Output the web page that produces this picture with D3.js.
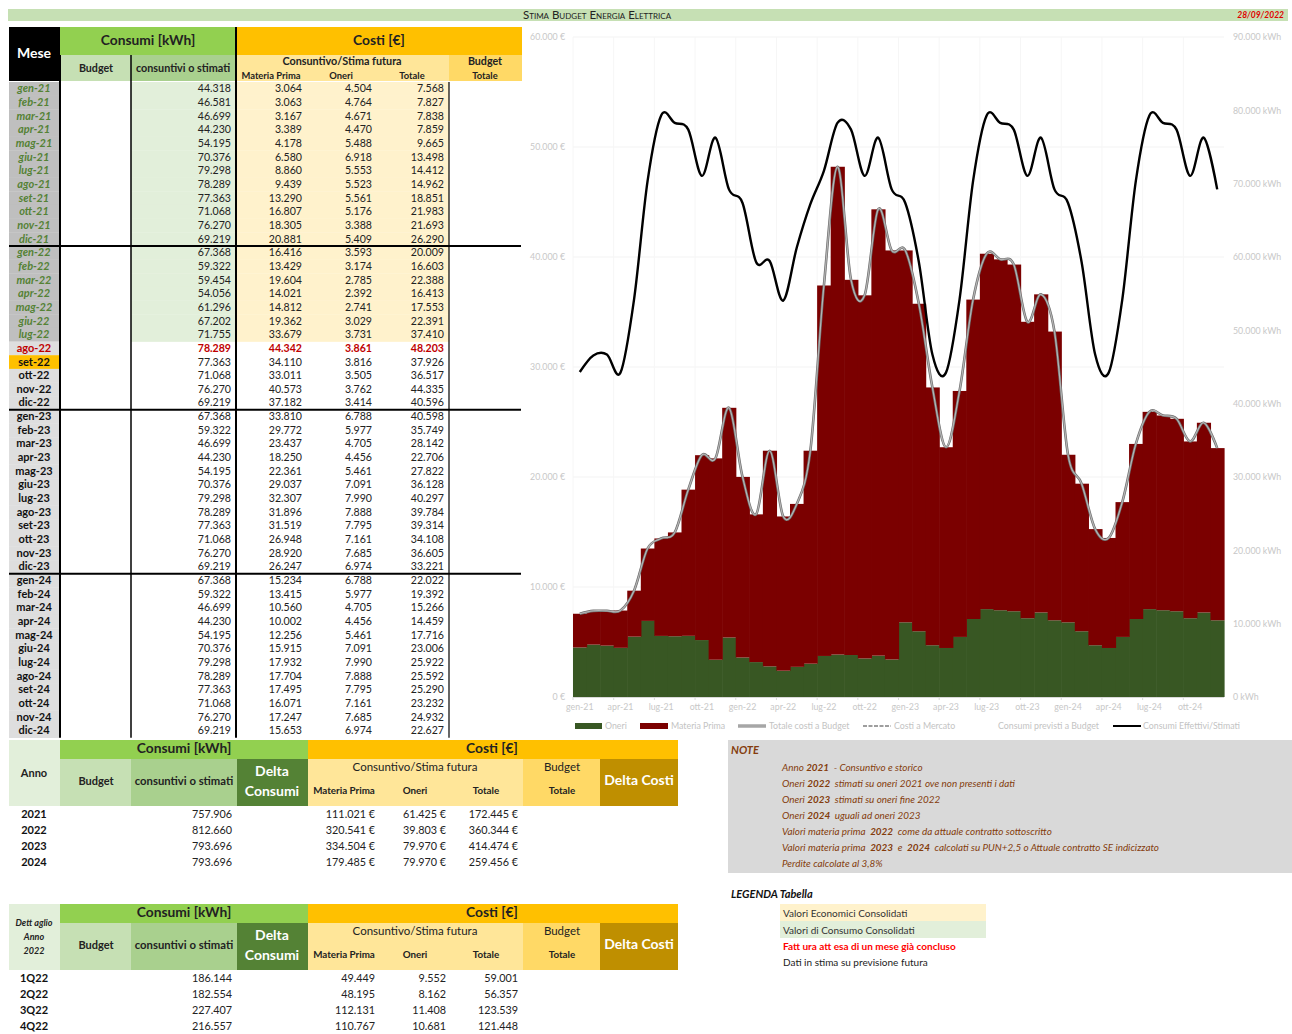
<!DOCTYPE html>
<html><head><meta charset="utf-8">
<script src="https://cdn.jsdelivr.net/npm/d3@7"></script>
<style>body{margin:0;background:#fff} svg{display:block;font-family:Lato,'Open Sans',sans-serif}</style>
</head><body><svg id="c" width="1292" height="1034"></svg>
<script>
// ---------------- DATA ----------------
const monthNames = ["gen","feb","mar","apr","mag","giu","lug","ago","set","ott","nov","dic"];
const yearSuffix = ["21","22","23","24"];
const months = yearSuffix.flatMap(y => monthNames.map(m => m + "-" + y));

const consumi = [
  44318,46581,46699,44230,54195,70376,79298,78289,77363,71068,76270,69219,
  67368,59322,59454,54056,61296,67202,71755,78289,77363,71068,76270,69219,
  67368,59322,46699,44230,54195,70376,79298,78289,77363,71068,76270,69219,
  67368,59322,46699,44230,54195,70376,79298,78289,77363,71068,76270,69219];
const materiaPrima = [
  3064,3063,3167,3389,4178,6580,8860,9439,13290,16807,18305,20881,
  16416,13429,19604,14021,14812,19362,33679,44342,34110,33011,40573,37182,
  33810,29772,23437,18250,22361,29037,32307,31896,31519,26948,28920,26247,
  15234,13415,10560,10002,12256,15915,17932,17704,17495,16071,17247,15653];
const oneri = [
  4504,4764,4671,4470,5488,6918,5553,5523,5561,5176,3388,5409,
  3593,3174,2785,2392,2741,3029,3731,3861,3816,3505,3762,3414,
  6788,5977,4705,4456,5461,7091,7990,7888,7795,7161,7685,6974,
  6788,5977,4705,4456,5461,7091,7990,7888,7795,7161,7685,6974];
const totale = [
  7568,7827,7838,7859,9665,13498,14412,14962,18851,21983,21693,26290,
  20009,16603,22388,16413,17553,22391,37410,48203,37926,36517,44335,40596,
  40598,35749,28142,22706,27822,36128,40297,39784,39314,34108,36605,33221,
  22022,19392,15266,14459,17716,23006,25922,25592,25290,23232,24932,22627];

const costTicks = [0,10000,20000,30000,40000,50000,60000];
const kwhTicks = [0,10000,20000,30000,40000,50000,60000,70000,80000,90000];
const xTickLabels = months.filter((m,i) => i % 3 === 0);

const anni = ["2021","2022","2023","2024"];
const anniConsumi = [757906,812660,793696,793696];
const anniMP = [111021,320541,334504,179485];
const anniOneri = [61425,39803,79970,79970];
const anniTot = [172445,360344,414474,259456];

const quarters = ["1Q22","2Q22","3Q22","4Q22"];
const qConsumi = [186144,182554,227407,216557];
const qMP = [49449,48195,112131,110767];
const qOneri = [9552,8162,11408,10681];
const qTot = [59001,56357,123539,121448];

const legendItems = ["Oneri","Materia Prima","Totale costi a Budget","Costi a Mercato","Consumi previsti a Budget","Consumi Effettivi/Stimati"];

const notes = [
  [["Anno ",0],["2021",1],["  - Consuntivo e storico",0]],
  [["Oneri ",0],["2022",1],["  stimati su oneri 2021 ove non presenti i dati",0]],
  [["Oneri ",0],["2023",1],["  stimati su oneri fine 2022",0]],
  [["Oneri ",0],["2024",1],["  uguali ad oneri 2023",0]],
  [["Valori materia prima  ",0],["2022",1],["  come da attuale contratto sottoscritto",0]],
  [["Valori materia prima  ",0],["2023",1],["  e  ",0],["2024",1],["  calcolati su PUN+2,5 o Attuale contratto SE indicizzato",0]],
  [["Perdite calcolate al 3,8%",0]]
];

// ---------------- HELPERS ----------------
const loc = d3.formatLocale({decimal:",", thousands:".", grouping:[3], currency:["",""]});
const fmt = loc.format(",d");
const svg = d3.select("#c");

function rect(x,y,w,h,fill){ return svg.append("rect").attr("x",x).attr("y",y).attr("width",w).attr("height",h).attr("fill",fill); }
function txt(x,y,s,o={}){
  return svg.append("text").attr("x",x).attr("y",y).text(s)
    .attr("text-anchor",o.a||"start").attr("font-size",o.s||9)
    .attr("font-weight",o.b?"bold":"normal").attr("font-style",o.i?"italic":"normal")
    .attr("fill",o.c||"#222");
}
function line(x1,y1,x2,y2,c,w){ return svg.append("line").attr("x1",x1).attr("y1",y1).attr("x2",x2).attr("y2",y2).attr("stroke",c).attr("stroke-width",w); }

// ---------------- TITLE ----------------
rect(8,9,1280,12,"#C6E0B4");
txt(597,19,"Stima Budget Energia Elettrica",{a:"middle",s:11.5,c:"#222"}).style("font-variant","small-caps");
txt(1284,18,"28/09/2022",{a:"end",s:8.5,b:true,i:true,c:"#E00000"});

// ---------------- MONTHLY TABLE ----------------
rect(9,27,51,54,"#000");
rect(60,27,176,28,"#92D050");
rect(236,27,286,28,"#FFC000");
rect(60,55,71,26,"#C6E0B4");
rect(131,55,105,26,"#A9D08E");
rect(236,55,213,26,"#FFE699");
rect(449,55,73,26,"#FFD966");
txt(34,58,"Mese",{a:"middle",s:14,b:true,c:"#fff"});
txt(148,45,"Consumi [kWh]",{a:"middle",s:13.8,b:true});
txt(379,45,"Costi [€]",{a:"middle",s:13.8,b:true});
txt(96,72,"Budget",{a:"middle",s:10.7,b:true});
txt(183,72,"consuntivi o stimati",{a:"middle",s:10.8,b:true});
txt(342,65,"Consuntivo/Stima futura",{a:"middle",s:10.8,b:true});
txt(271,78.5,"Materia Prima",{a:"middle",s:9.4,b:true});
txt(341,78.5,"Oneri",{a:"middle",s:9.4,b:true});
txt(412,78.5,"Totale",{a:"middle",s:9.4,b:true});
txt(485,65,"Budget",{a:"middle",s:10.7,b:true});
txt(485,78.5,"Totale",{a:"middle",s:9.4,b:true});

const y0 = 82, rh = 13.66;
months.forEach((m,i) => {
  const y = y0 + i*rh;
  const cons = i <= 18, late = i === 19, cur = i === 20;
  rect(9,y,51,rh+0.3, cur ? "#FFC000" : cons ? "#BFBFBF" : "#DEDEDE");
  if (cons) { rect(131,y,105,rh+0.3,"#E2EFDA"); rect(236,y,213,rh+0.3,"#FFF2CC"); }
  const by = y + 10.3;
  txt(34,by,m,{a:"middle",s:11,b:true,i:cons,c: cons ? "#548235" : late ? "#C00000" : "#111"});
  const vo = {a:"end",s:10.6,b:late,c: late ? "#C00000" : "#222"};
  txt(231,by,fmt(consumi[i]),vo);
  txt(302,by,fmt(materiaPrima[i]),vo);
  txt(372,by,fmt(oneri[i]),vo);
  txt(444,by,fmt(totale[i]),vo);
});
const tEnd = y0 + 48*rh;
line(60,55,60,tEnd,"#000",2);
line(131,55,131,tEnd,"#000",1.5);
line(236,27,236,tEnd,"#000",2);
line(449,y0,449,tEnd,"#000",1.2);
[12,24,36].forEach(k => line(9,y0+k*rh,521,y0+k*rh,"#000",2));

// ---------------- CHART ----------------
const x = d3.scaleBand().domain(months).range([573,1224]).padding(0);
const yC = d3.scaleLinear().domain([0,60000]).range([697,37]);
const yK = d3.scaleLinear().domain([0,90000]).range([697,37]);

const grid = svg.append("g");
grid.selectAll("line").data(costTicks.slice(1)).join("line")
  .attr("x1",573).attr("x2",1224).attr("y1",d=>yC(d)).attr("y2",d=>yC(d))
  .attr("stroke","#f3f3f3").attr("stroke-width",1);
grid.selectAll(".vg").data(xTickLabels).join("line").attr("class","vg")
  .attr("x1",d=>x(d)).attr("x2",d=>x(d)).attr("y1",37).attr("y2",697)
  .attr("stroke","#f6f6f6").attr("stroke-width",1);

const bars = svg.append("g");
bars.selectAll(".on").data(months).join("rect").attr("class","on")
  .attr("x",d=>x(d)).attr("width",x.bandwidth()+0.6)
  .attr("y",(d,i)=>yC(oneri[i])).attr("height",(d,i)=>yC(0)-yC(oneri[i]))
  .attr("fill","#385723");
bars.selectAll(".mp").data(months).join("rect").attr("class","mp")
  .attr("x",d=>x(d)).attr("width",x.bandwidth()+0.6)
  .attr("y",(d,i)=>yC(oneri[i]+materiaPrima[i])).attr("height",(d,i)=>yC(oneri[i])-yC(oneri[i]+materiaPrima[i]))
  .attr("fill","#7B0000");

const cx = (d,i) => x(months[i]) + x.bandwidth()/2;
const lineCost = d3.line().x(cx).y(d=>yC(d)).curve(d3.curveCardinal.tension(0));
const lineKwh = d3.line().x(cx).y(d=>yK(d)).curve(d3.curveCardinal.tension(0));
svg.append("path").datum(totale).attr("d",lineCost).attr("fill","none").attr("stroke","#6f6f6f").attr("stroke-width",2.6);
svg.append("path").datum(totale).attr("d",lineCost).attr("fill","none").attr("stroke","#b5b5b5").attr("stroke-width",1.2);
svg.append("path").datum(consumi).attr("d",lineKwh).attr("fill","none").attr("stroke","#000").attr("stroke-width",2.4);

// axes
line(573,697.5,1224,697.5,"#d9d9d9",1);
const axL = svg.append("g").attr("transform","translate(573,0)")
  .call(d3.axisLeft(yC).tickValues(costTicks).tickSize(0).tickPadding(8).tickFormat(d=>fmt(d)+" €"));
const axR = svg.append("g").attr("transform","translate(1224,0)")
  .call(d3.axisRight(yK).tickValues(kwhTicks).tickSize(0).tickPadding(9).tickFormat(d=>fmt(d)+" kWh"));
const axB = svg.append("g").attr("transform","translate(0,697)")
  .call(d3.axisBottom(x).tickValues(xTickLabels).tickSize(0).tickPadding(7));
[axL,axR,axB].forEach(a => {
  a.select(".domain").remove();
  a.selectAll("text").attr("fill","#c8c8c8").attr("font-size",8.8).attr("font-family","Lato,'Open Sans',sans-serif");
});
svg.append("g").selectAll("line").data(xTickLabels).join("line")
  .attr("x1",d=>x(d)).attr("x2",d=>x(d)).attr("y1",697).attr("y2",700).attr("stroke","#d9d9d9");

// legend
const ly = 726;
rect(575,ly-3,27,6,"#385723");
rect(640,ly-3,28,6,"#7B0000");
line(738,ly,766,ly,"#a6a6a6",3.5);
line(863,ly,891,ly,"#7f7f7f",1.5).attr("stroke-dasharray","4,1.5");
line(1113,ly,1141,ly,"#000",2);
const lx = [605,671,769,894,998,1143];
legendItems.forEach((t,i) => txt(lx[i],ly+3,t,{s:8.8,c:"#c3c3c3"}));

// ---------------- SUMMARY TABLES ----------------
function summary(oy, labelFn, rows, cons, mp, on, tot, euro){
  rect(9,oy,51,66,"#E2EFDA");
  rect(60,oy,248,19,"#92D050");
  rect(308,oy,370,19,"#FFC000");
  rect(60,oy+19,71,47,"#C6E0B4");
  rect(131,oy+19,106,47,"#A9D08E");
  rect(237,oy+19,71,47,"#548235");
  rect(308,oy+19,215,47,"#FFE699");
  rect(523,oy+19,77,47,"#FFD966");
  rect(600,oy+19,78,47,"#BF8F00");
  labelFn(oy);
  txt(184,oy+13,"Consumi [kWh]",{a:"middle",s:13.8,b:true});
  txt(492,oy+13,"Costi [€]",{a:"middle",s:13.8,b:true});
  txt(96,oy+45,"Budget",{a:"middle",s:11,b:true});
  txt(184,oy+45,"consuntivi o stimati",{a:"middle",s:11.3,b:true});
  txt(272,oy+36,"Delta",{a:"middle",s:14,b:true,c:"#fff"});
  txt(272,oy+56,"Consumi",{a:"middle",s:14,b:true,c:"#fff"});
  txt(415,oy+31,"Consuntivo/Stima futura",{a:"middle",s:11.5});
  txt(344,oy+54,"Materia Prima",{a:"middle",s:9.8,b:true});
  txt(415,oy+54,"Oneri",{a:"middle",s:9.8,b:true});
  txt(486,oy+54,"Totale",{a:"middle",s:9.8,b:true});
  txt(562,oy+31,"Budget",{a:"middle",s:11.5});
  txt(562,oy+54,"Totale",{a:"middle",s:9.8,b:true});
  txt(639,oy+45,"Delta Costi",{a:"middle",s:14,b:true,c:"#fff"});
  const suf = euro ? " €" : "";
  rows.forEach((r,i) => {
    const by = oy + 78 + i*16;
    txt(34,by,r,{a:"middle",s:11,b:true,c:"#111"});
    txt(232,by,fmt(cons[i]),{a:"end",s:10.8});
    txt(375,by,fmt(mp[i])+suf,{a:"end",s:10.8});
    txt(446,by,fmt(on[i])+suf,{a:"end",s:10.8});
    txt(518,by,fmt(tot[i])+suf,{a:"end",s:10.8});
  });
}
summary(740, oy => txt(34,oy+37,"Anno",{a:"middle",s:11,b:true}), anni, anniConsumi, anniMP, anniOneri, anniTot, true);
summary(904, oy => {
  txt(34,oy+22,"Dett aglio",{a:"middle",s:9,b:true,i:true});
  txt(34,oy+36,"Anno",{a:"middle",s:9,b:true,i:true});
  txt(34,oy+50,"2022",{a:"middle",s:9,b:true,i:true});
}, quarters, qConsumi, qMP, qOneri, qTot, false);

// ---------------- NOTES ----------------
rect(728,740,564,133,"#D9D9D9");
txt(731,754,"NOTE",{s:11,b:true,i:true,c:"#843C0C"});
notes.forEach((parts,i) => {
  const t = svg.append("text").attr("x",782).attr("y",770.5+i*16).attr("font-size",9.9)
    .attr("font-style","italic").attr("fill","#843C0C").attr("xml:space","preserve").style("white-space","pre");
  parts.forEach(p => t.append("tspan").text(p[0]).attr("font-weight",p[1]?"bold":"normal"));
});

// legend tabella
txt(731,898,"LEGENDA Tabella",{s:11,b:true,i:true,c:"#111"});
rect(780,904,206,17,"#FFF2CC");
rect(780,921,206,17,"#E2EFDA");
txt(783,917,"Valori Economici Consolidati",{s:10,c:"#333"});
txt(783,934,"Valori di Consumo Consolidati",{s:10,c:"#333"});
txt(783,950,"Fatt ura att esa di un mese già concluso",{s:10,b:true,c:"#FF0000"});
txt(783,966,"Dati in stima su previsione futura",{s:10,c:"#222"});
</script></body></html>
